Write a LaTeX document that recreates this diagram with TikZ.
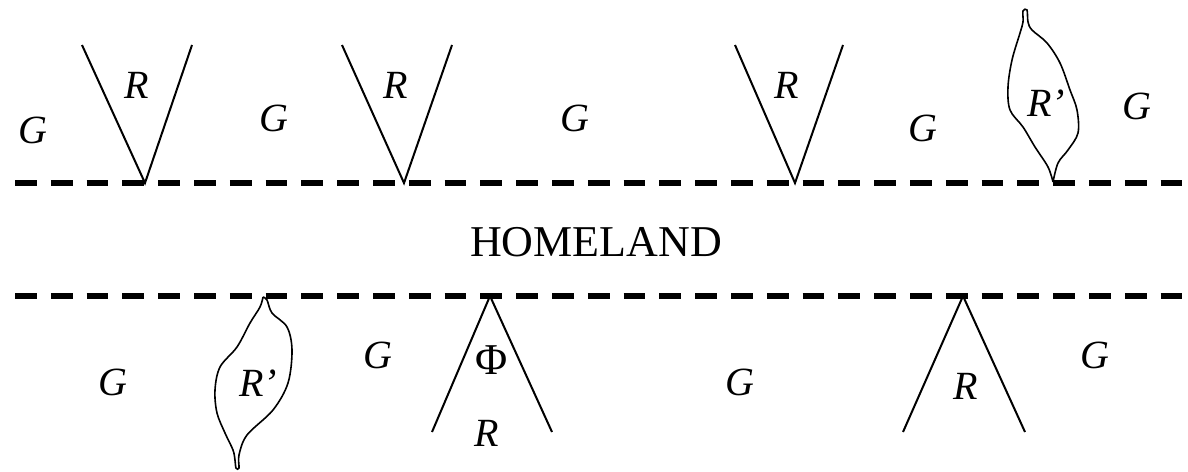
\documentclass[tikz,border=0pt]{standalone}
\usepackage{fontspec}
\setmainfont{Liberation Serif}
\usetikzlibrary{calc}

\begin{document}
\begin{tikzpicture}[x=0.5pt, y=-0.5pt,
    lbl/.style={font=\fontsize{20}{24}\selectfont\itshape},
    border/.style={line width=2.8pt, dash pattern=on 10.9pt off 7pt},
    wedge/.style={line width=1pt},
    leaf/.style={line width=0.8pt, smooth, tension=0.55}]

    % --- 1. 枠 ---
    \useasboundingbox (0,0) rectangle (1188,471);

    % --- 2. 国境線（破線） ---
    \coordinate (tl) at (15,183);  \coordinate (tr) at (1188,183);
    \coordinate (bl) at (15,296);  \coordinate (br) at (1188,296);
    \draw[border] (tl) -- (tr);
    \draw[border] (bl) -- (br);
    \node[font=\fontsize{22}{26}\selectfont] (home) at (596,242) {HOMELAND};

    % --- 3. 上側の楔 ---
    \foreach \n/\xl/\xv/\xr in {1/82/145/192, 2/342/404/452, 3/735/795/843} {
        \coordinate (up\n l) at (\xl,45);
        \coordinate (up\n v) at (\xv,183);
        \coordinate (up\n r) at (\xr,45);
        \draw[wedge] (up\n l) -- (up\n v) -- (up\n r);
        \node[lbl] (upR\n) at (\xv-8,85) {R};
    }

    % --- 4. 下側の楔 ---
    \foreach \n/\xl/\xv/\xr in {1/432/490/552, 2/903/963/1025} {
        \coordinate (dn\n l) at (\xl,432);
        \coordinate (dn\n v) at (\xv,296);
        \coordinate (dn\n r) at (\xr,432);
        \draw[wedge] (dn\n l) -- (dn\n v) -- (dn\n r);
    }
    \node[font=\fontsize{22}{26}\selectfont] (phi) at (492,360) {Φ};
    \node[lbl] (dnR1) at (487,433) {R};
    \node[lbl] (dnR2) at (966,386) {R};

    % --- 5. 葉形の領域 R' ---
    \draw[leaf] plot coordinates {(1053,182) (1048,167) (1035,147) (1023,127)
        (1010,110) (1008,87) (1012,60) (1020,33) (1023,22) (1023,11) (1027,10)
        (1028,22) (1032,30) (1047,43) (1060,63) (1070,90) (1077,110) (1078,133)
        (1068,150) (1058,163) (1053,182)};
    \draw[leaf] plot coordinates {(263,297) (260,307) (250,323) (237,347)
        (220,367) (215,390) (217,413) (225,433) (233,450) (235,460) (236,468)
        (239,468) (239,455) (247,435) (273,410) (288,383) (292,350) (287,327)
        (272,313) (267,300) (263,297)};
    \node[lbl] (upRp) at (1046,103) {R’};
    \node[lbl] (dnRp) at (258,383) {R’};

    % --- 6. G のラベル ---
    \foreach \i/\px/\py in {1/33/130, 2/274/118, 3/575/118, 4/923/128, 5/1137/106,
                           6/113/382, 7/378/355, 8/740/382, 9/1095/355} {
        \node[lbl] (g\i) at (\px,\py) {G};
    }

\end{tikzpicture}
\end{document}
